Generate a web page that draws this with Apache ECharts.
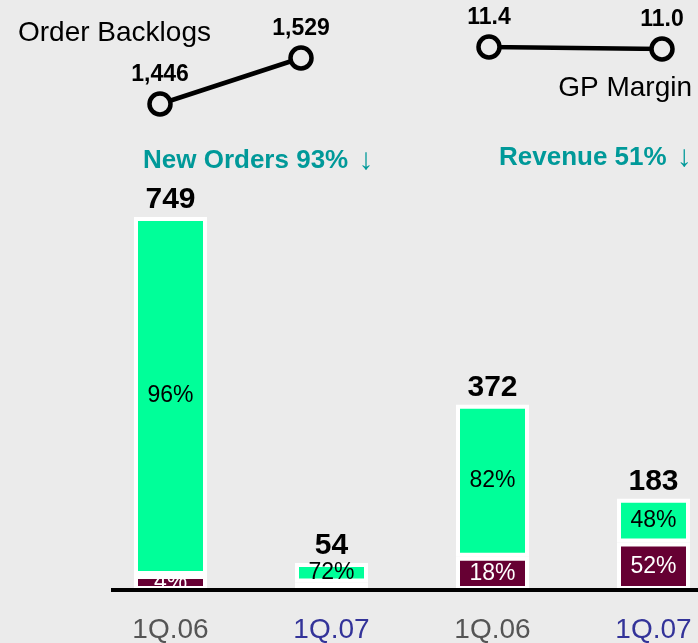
<!DOCTYPE html>
<html>
<head>
<meta charset="utf-8">
<script src="https://cdn.jsdelivr.net/npm/echarts@6/dist/echarts.min.js"></script>
<style>
  html, body { margin: 0; padding: 0; background: #ebebeb; }
  #chart { width: 698px; height: 643px; }
</style>
</head>
<body>
<div id="chart"></div>
<script>
const categories = ['1Q.06', '1Q.07', '1Q.06', '1Q.07'];
const totals = [749, 54, 372, 183];
const greenShare = [96, 72, 82, 48];
const maroonShare = [4, 28, 18, 52];
const showMaroonLabel = [true, false, true, true];

const periods = ['1Q.06', '1Q.07'];
const backlogValues = [1446, 1529];
const marginValues = [11.4, 11.0];

const font = 'Liberation Sans, Arial, sans-serif';
const chart = echarts.init(document.getElementById('chart'));

const lineStyleCommon = {
  type: 'line',
  symbol: 'circle',
  symbolSize: 21,
  lineStyle: { color: '#000', width: 4.5 },
  itemStyle: { color: '#ebebeb', borderColor: '#000', borderWidth: 4.5 },
  label: {
    show: true, position: 'top', distance: 5,
    fontFamily: font, fontWeight: 'bold', fontSize: 23, color: '#000'
  },
  z: 5
};

const headStyle = {
  fontFamily: font, fontSize: 26, fontWeight: 'bold', color: '#009999',
  rich: {
    arr: { fontFamily: font, fontSize: 30, fontWeight: 'normal', color: '#009999', padding: [0, 0, 0, 3] }
  }
};

chart.setOption({
  backgroundColor: '#ebebeb',
  animation: false,
  title: [
    { text: 'Order Backlogs', left: 13, top: 14, textStyle: { fontFamily: font, fontSize: 28, fontWeight: 'normal', color: '#000' } },
    { text: 'GP Margin', right: 1, top: 69, textStyle: { fontFamily: font, fontSize: 28, fontWeight: 'normal', color: '#000' } },
    { text: 'New Orders 93% {arr|↓}', left: 138, top: 141, textStyle: headStyle },
    { text: 'Revenue 51% {arr|↓}', left: 494, top: 138, textStyle: headStyle }
  ],
  grid: [
    { left: 90, width: 644, top: 190, height: 400, outerBoundsMode: 'none' },
    { left: 160, width: 141, top: 58, height: 46, outerBoundsMode: 'none' },
    { left: 489, width: 173, top: 47, height: 2, outerBoundsMode: 'none' }
  ],
  xAxis: [
    {
      type: 'category', gridIndex: 0, data: categories,
      axisLine: { show: false }, axisTick: { show: false },
      axisLabel: {
        interval: 0, margin: 26, fontFamily: font, fontSize: 28,
        formatter: (v, i) => (i % 2 === 0 ? '{a|' + v + '}' : '{b|' + v + '}'),
        rich: {
          a: { color: '#555555', fontFamily: font, fontSize: 28 },
          b: { color: '#333399', fontFamily: font, fontSize: 28 }
        }
      }
    },
    { type: 'category', gridIndex: 1, data: periods, boundaryGap: false, show: false },
    { type: 'category', gridIndex: 2, data: periods, boundaryGap: false, show: false }
  ],
  yAxis: [
    { type: 'value', gridIndex: 0, min: 0, max: 803, show: false },
    { type: 'value', gridIndex: 1, min: 1446, max: 1529, show: false },
    { type: 'value', gridIndex: 2, min: 11.0, max: 11.4, show: false }
  ],
  series: [
    {
      name: 'maroon', type: 'bar', stack: 'rev', barWidth: 73,
      xAxisIndex: 0, yAxisIndex: 0,
      itemStyle: { color: '#660033', borderColor: '#fff', borderWidth: 4 },
      data: totals.map((t, i) => ({
        value: t * maroonShare[i] / 100,
        label: { show: showMaroonLabel[i] }
      })),
      label: {
        position: 'inside', fontFamily: font, fontSize: 23, color: '#fff',
        formatter: p => maroonShare[p.dataIndex] + '%'
      }
    },
    {
      name: 'green', type: 'bar', stack: 'rev', barWidth: 73,
      xAxisIndex: 0, yAxisIndex: 0,
      itemStyle: { color: '#00ff99', borderColor: '#fff', borderWidth: 4 },
      data: totals.map((t, i) => t * greenShare[i] / 100),
      label: {
        show: true, position: 'inside', fontFamily: font, fontSize: 23, color: '#000',
        formatter: p => greenShare[p.dataIndex] + '%'
      }
    },
    {
      name: 'total', type: 'scatter', xAxisIndex: 0, yAxisIndex: 0,
      symbolSize: 0, data: totals,
      itemStyle: { opacity: 1 },
      label: {
        show: true, position: 'top', distance: 2,
        fontFamily: font, fontWeight: 'bold', fontSize: 30, color: '#000',
        formatter: p => String(p.value)
      },
      z: 6
    },
    Object.assign({}, lineStyleCommon, {
      name: 'backlog', xAxisIndex: 1, yAxisIndex: 1, data: backlogValues,
      label: Object.assign({}, lineStyleCommon.label, {
        formatter: p => p.value.toLocaleString('en-US')
      })
    }),
    Object.assign({}, lineStyleCommon, {
      name: 'margin', xAxisIndex: 2, yAxisIndex: 2, data: marginValues,
      label: Object.assign({}, lineStyleCommon.label, {
        formatter: p => p.value.toFixed(1)
      })
    })
  ],
  graphic: [
    {
      type: 'line', z: 100,
      shape: { x1: 111, y1: 590, x2: 698, y2: 590 },
      style: { stroke: '#000', lineWidth: 4 }
    }
  ]
});
</script>
</body>
</html>
